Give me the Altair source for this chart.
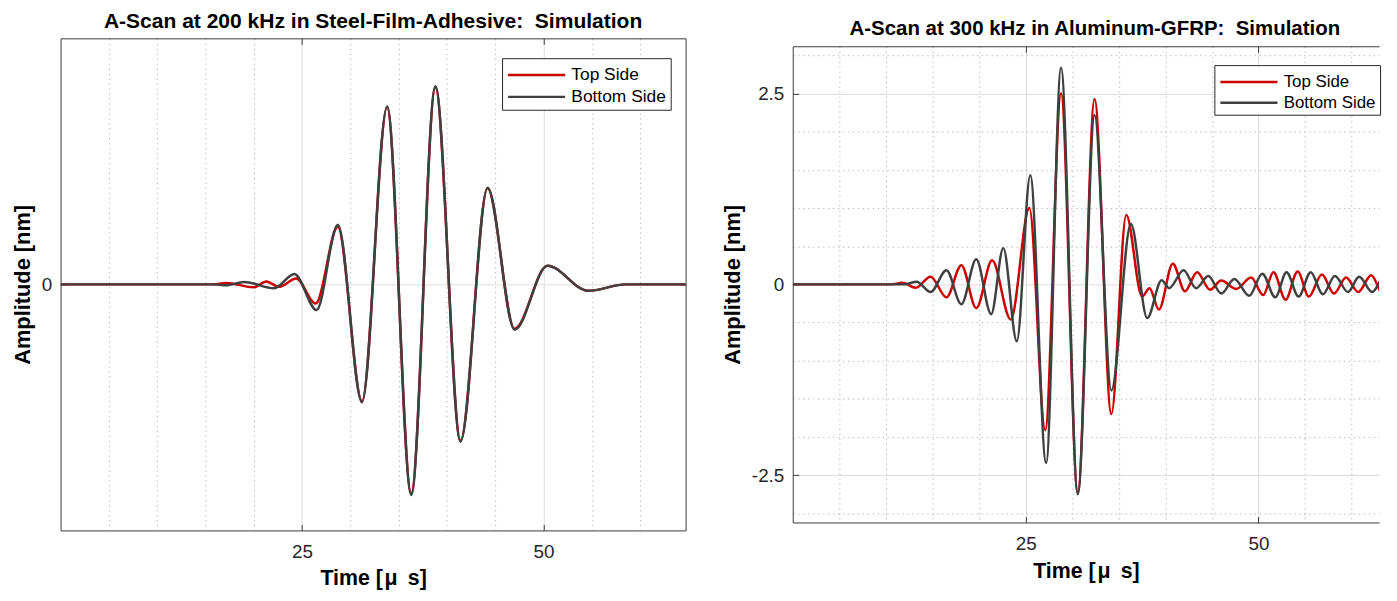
import altair as alt
import pandas as pd

FONT = "Liberation Sans"

# ---------------- data ----------------
series = ["Top Side", "Bottom Side"]
series_colors = ["#cc0000", "#404040"]

# Left panel: A-Scan at 200 kHz in Steel-Film-Adhesive (time in us, amplitude in nm)
left_top_t = [0, 15.8, 17.15, 20.0, 21.3, 22.6, 24.4, 26.4, 28.7, 31.2, 33.8, 36.3,
              38.8, 41.4, 44.2, 47.0, 50.4, 54.6, 58.5, 64.7]
left_top_amp = [0, 0, 0.03, -0.06, 0.06, -0.05, 0.12, -0.39, 1.17, -2.37, 3.59, -4.24,
                4.0, -3.17, 1.95, -0.90, 0.38, -0.13, 0.0, 0.0]
left_bot_t = [0, 15.8, 17.15, 19.0, 22.1, 24.2, 26.5, 28.7, 31.2, 33.8, 36.3, 38.8,
              41.4, 44.2, 47.0, 50.4, 54.6, 58.5, 64.7]
left_bot_amp = [0, 0, -0.02, 0.05, -0.08, 0.21, -0.52, 1.21, -2.39, 3.61, -4.27, 4.02,
                -3.19, 1.96, -0.92, 0.38, -0.13, 0.0, 0.0]

# Right panel: A-Scan at 300 kHz in Aluminum-GFRP
right_top_t = [0, 10.5, 11.8, 13.2, 14.8, 16.5, 18.1, 19.7, 21.4, 23.4, 25.4, 27.1, 28.8,
               30.6, 32.4, 34.2, 35.8, 37.5, 38.3, 39.3, 40.8, 42.1, 43.4, 44.8, 46.0,
               47.6, 49.2, 50.5, 51.6, 52.9, 54.2, 55.4, 56.8, 58.1, 59.4, 60.7, 62.1,
               63.4, 64.0]
right_top_amp = [0, 0, 0.02, -0.045, 0.10, -0.17, 0.25, -0.31, 0.315, -0.46, 1.0, -1.91,
                 2.50, -2.73, 2.43, -1.70, 0.91, -0.16, -0.05, -0.33, 0.27, -0.09, 0.16,
                 -0.07, 0.05, -0.06, 0.09, -0.14, 0.16, -0.20, 0.17, -0.16, 0.13, -0.12,
                 0.09, -0.10, 0.12, -0.14, -0.05]
right_bot_t = [0, 12.0, 13.3, 14.8, 16.5, 18.1, 19.7, 21.3, 22.6, 24.05, 25.5, 27.2, 28.8,
               30.6, 32.4, 34.2, 36.3, 38.05, 39.6, 40.4, 41.95, 43.3, 44.6, 46.0, 47.4,
               49.0, 50.4, 51.8, 53.0, 54.3, 55.6, 56.9, 58.2, 59.6, 60.8, 62.2, 63.5,
               64.0]
right_bot_amp = [0, 0, 0.035, -0.10, 0.185, -0.26, 0.33, -0.39, 0.475, -0.745, 1.43,
                 -2.34, 2.84, -2.75, 2.22, -1.39, 0.79, -0.44, 0.055, -0.05, 0.185, -0.05,
                 0.11, -0.12, 0.07, -0.15, 0.14, -0.17, 0.16, -0.16, 0.16, -0.13, 0.11,
                 -0.10, 0.10, -0.10, 0.10, 0.05]

# axis ticks / grid positions
left_x_ticks = [25, 50]
left_y_ticks = [0]
left_minor_x = [5, 10, 15, 20, 30, 35, 40, 45, 55, 60]
right_x_ticks = [25, 50]
right_y_ticks = [-2.5, 0, 2.5]
right_minor_x = [5, 10, 15, 20, 30, 35, 40, 45, 55, 60]
right_minor_y = [-3, -2, -1.5, -1, -0.5, 0.5, 1, 1.5, 2, 3]

left_title = "A-Scan at 200 kHz in Steel-Film-Adhesive: \u00a0Simulation"
right_title = "A-Scan at 300 kHz in Aluminum-GFRP: \u00a0Simulation"
x_title = "Time [\u200aμ\u2009 s]"
y_title = "Amplitude [nm]"


def frame(t_top, a_top, t_bot, a_bot):
    return pd.concat(
        [pd.DataFrame({"t": t_top, "amp": a_top, "side": series[0]}),
         pd.DataFrame({"t": t_bot, "amp": a_bot, "side": series[1]})],
        ignore_index=True)


AX = "#3a3a3a"
LABEL_EXPR = "datum.value < 0 ? '-' + format(-datum.value, '') : format(datum.value, '')"


def panel(df, title, xdom, ydom, W, H, xt, yt, mx, my, lx, ly, right_border, title_dx,
          title_fs, legend_fs):
    xs = alt.Scale(domain=xdom, nice=False, zero=False)
    ys = alt.Scale(domain=ydom, nice=False, zero=False)
    base = alt.Chart(df)
    layers = []

    # minor dotted grid
    minor_x = alt.Axis(orient="bottom", values=mx, grid=True, gridDash=[1.5, 3.5],
                       gridColor="#bdbdbd", gridWidth=1, labels=False, ticks=False,
                       domain=False, title=None)
    minor_y = (alt.Axis(orient="left", values=my, grid=True, gridDash=[1.5, 3.5],
                        gridColor="#bdbdbd", gridWidth=1, labels=False, ticks=False,
                        domain=False, title=None) if my else None)
    layers.append(base.mark_point(opacity=0, size=0).encode(
        x=alt.X("t:Q", scale=xs, axis=minor_x),
        y=alt.Y("amp:Q", scale=ys, axis=minor_y)))

    # main labelled axes with major grid
    main_x = alt.Axis(orient="bottom", values=xt, grid=True, gridColor="#dcdcdc",
                      gridWidth=1, ticks=False, tickSize=0, domain=True, domainColor=AX,
                      domainWidth=1, labelFontSize=19, labelPadding=12, labelColor="#262626",
                      title=x_title, titleFontSize=21.5, titleFontWeight="bold",
                      titlePadding=7, titleColor="black")
    main_y = alt.Axis(orient="left", values=yt, grid=True, gridColor="#dcdcdc",
                      gridWidth=1, ticks=False, tickSize=0, domain=True, domainColor=AX,
                      domainWidth=1, labelFontSize=19, labelPadding=9, labelColor="#262626",
                      labelExpr=LABEL_EXPR,
                      title=y_title, titleFontSize=22, titleFontWeight="bold",
                      titlePadding=7, titleColor="black")
    layers.append(base.mark_point(opacity=0, size=0).encode(
        x=alt.X("t:Q", scale=xs, axis=main_x),
        y=alt.Y("amp:Q", scale=ys, axis=main_y)))

    # inward ticks on bottom and left edges
    tick_b = alt.Axis(orient="top", offset=-H, values=xt, ticks=True, tickSize=6,
                      tickColor=AX, labels=False, domain=False, grid=False, title=None)
    tick_l = alt.Axis(orient="right", offset=-W, values=yt, ticks=True, tickSize=6,
                      tickColor=AX, labels=False, domain=False, grid=False, title=None)
    layers.append(base.mark_point(opacity=0, size=0).encode(
        x=alt.X("t:Q", scale=xs, axis=tick_b),
        y=alt.Y("amp:Q", scale=ys, axis=tick_l)))

    # top border (and right border) with inward ticks
    top_x = alt.Axis(orient="bottom", offset=-H, values=xt, ticks=True, tickSize=6,
                     tickColor=AX, labels=False, domain=True, domainColor=AX,
                     domainWidth=1, grid=False, title=None)
    right_y = (alt.Axis(orient="left", offset=-W, values=yt, ticks=True, tickSize=6,
                        tickColor=AX, labels=False, domain=True, domainColor=AX,
                        domainWidth=1, grid=False, title=None) if right_border else None)
    layers.append(base.mark_point(opacity=0, size=0).encode(
        x=alt.X("t:Q", scale=xs, axis=top_x),
        y=alt.Y("amp:Q", scale=ys, axis=right_y)))

    color = alt.Color(
        "side:N",
        scale=alt.Scale(domain=series, range=series_colors),
        legend=alt.Legend(orient="none", legendX=lx, legendY=ly, title=None,
                          fillColor="white", strokeColor="#262626", padding=4,
                          labelFont=FONT, labelFontSize=legend_fs, labelColor="black",
                          labelOffset=22, rowPadding=0,
                          symbolType="M-2.5,0L2.5,0", symbolSize=529,
                          symbolOffset=17.8, symbolStrokeWidth=2.5))

    for s in series:
        layers.append(base.transform_filter(alt.datum.side == s).mark_line(
            interpolate="monotone", strokeWidth=2.5, clip=True).encode(
            x=alt.X("t:Q", scale=xs, axis=None),
            y=alt.Y("amp:Q", scale=ys, axis=None),
            color=color))

    return alt.layer(*layers).resolve_axis(x="independent", y="independent").properties(
        width=W, height=H,
        title=alt.TitleParams(text=title, font=FONT, fontSize=title_fs, fontWeight="bold",
                              color="black", anchor="middle", frame="group", offset=6,
                              dx=title_dx))


left_df = frame(left_top_t, left_top_amp, left_bot_t, left_bot_amp)
right_df = frame(right_top_t, right_top_amp, right_bot_t, right_bot_amp)

left = panel(left_df, left_title,
             [0, 64.7], [-4.99, 4.99], 630, 496, left_x_ticks, left_y_ticks,
             left_minor_x, [], 445, 20, True, 0, 21.2, 17.5)
right = panel(right_df, right_title,
              [0, 62.94], [-3.12, 3.12], 591, 480, right_x_ticks, right_y_ticks,
              right_minor_x, right_minor_y, 425, 19, False, 9, 20.6, 17)

chart = alt.hconcat(left, right, spacing=35, center=True).resolve_legend(
    color="independent").properties(
    padding={"left": 3, "top": 0, "right": 0, "bottom": 0},
    background="white",
).configure_view(stroke=None).configure_axis(
    labelFont=FONT, titleFont=FONT)

chart.save("out.html", embed_options={"renderer": "svg", "actions": False})
